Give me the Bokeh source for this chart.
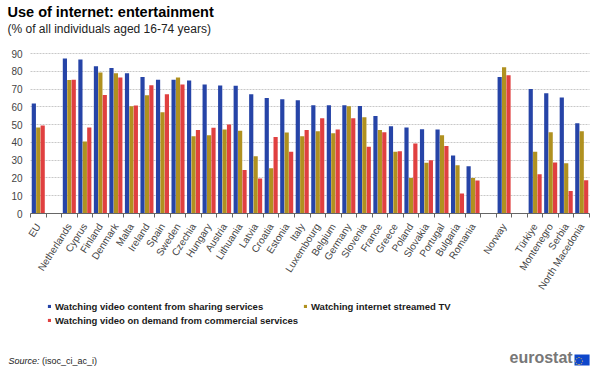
from bokeh.plotting import figure
from bokeh.models import (Range1d, FixedTicker, Label, Legend, LegendItem, ColumnDataSource)
from bokeh.embed import file_html
from bokeh.resources import INLINE

# ---- data -------------------------------------------------------------
categories = ["EU", "", "Netherlands", "Cyprus", "Finland", "Denmark", "Malta", "Ireland",
              "Spain", "Sweden", "Czechia", "Hungary", "Austria", "Lithuania", "Latvia",
              "Croatia", "Estonia", "Italy", "Luxembourg", "Belgium", "Germany", "Slovenia",
              "France", "Greece", "Poland", "Slovakia", "Portugal", "Bulgaria", "Romania",
              " ", "Norway", "  ", "Türkiye", "Montenegro", "Serbia", "North Macedonia"]

sharing = [61.9, None, 87.2, 86.6, 82.8, 81.9, 78.9, 76.8, 75.3, 75.3, 74.8, 72.5, 72.0,
           71.8, 67.1, 65.0, 64.3, 63.7, 60.9, 60.9, 60.9, 60.5, 54.9, 49.1, 48.4, 47.4,
           47.2, 32.6, 26.6, None, 76.8, None, 70.1, 67.7, 65.2, 50.8]
streamed_tv = [48.4, None, 75.1, 40.5, 79.3, 78.9, 60.3, 66.5, 57.0, 76.5, 43.5, 44.0, 47.2,
               46.5, 32.2, 25.5, 45.6, 43.5, 46.3, 45.1, 60.3, 54.2, 46.9, 34.7, 19.9, 28.5,
               44.0, 27.2, 19.9, None, 82.3, None, 34.7, 45.7, 28.3, 46.3]
on_demand = [49.5, None, 75.3, 48.4, 66.7, 76.5, 60.7, 72.2, 67.1, 72.5, 46.9, 48.2, 50.0,
             24.4, 19.7, 43.1, 34.7, 46.9, 53.6, 47.2, 53.6, 37.5, 45.7, 35.0, 39.4, 30.0,
             37.9, 11.2, 18.6, None, 77.8, None, 22.1, 28.7, 12.7, 18.7]

series_names = ["Watching video content from sharing services",
                "Watching internet streamed TV",
                "Watching video on demand from commercial services"]
series_colors = ["#2644A7", "#B09120", "#E04040"]
y_ticks = [0, 10, 20, 30, 40, 50, 60, 70, 80, 90]

# ---- layout geometry (pixels) ----------------------------------------
W, H = 600, 370
n = len(categories)
px_left, px_right = 30, 589      # where x = 0 and x = n fall
px_zero, px_top = 213, 53        # where y = 0 and y = 90 fall
xs = (px_right - px_left) / n
ys = (px_zero - px_top) / 90.0
x_range = Range1d(-px_left / xs, n + (W - px_right) / xs)
y_range = Range1d(-(H - px_zero) / ys, 90 + px_top / ys)

p = figure(width=W, height=H, x_range=x_range, y_range=y_range,
           output_backend="svg", toolbar_location=None, title=None,
           min_border_left=0, min_border_right=0, min_border_top=0, min_border_bottom=0)
p.outline_line_color = None
p.background_fill_color = "white"
p.border_fill_color = "white"

centers = [i + 0.5 for i, c in enumerate(categories) if c.strip()]
labels = [c for c in categories if c.strip()]

offsets = [-0.285, 0.0, 0.285]
renderers = []
for vals, off, col in zip([sharing, streamed_tv, on_demand], offsets, series_colors):
    xv = [i + 0.5 + off for i, v in enumerate(vals) if v is not None]
    yv = [v for v in vals if v is not None]
    src = ColumnDataSource(dict(x=xv, top=yv))
    r = p.vbar(x="x", top="top", bottom=0, width=0.27, source=src,
               fill_color=col, line_color=None)
    renderers.append(r)

# axes
xa = p.xaxis[0]
xa.fixed_location = 0
xa.bounds = (0, n)
xa.ticker = FixedTicker(ticks=centers, minor_ticks=list(range(0, n + 1)))
xa.major_label_overrides = {c: l for c, l in zip(centers, labels)}
xa.major_label_orientation = 1.0
xa.major_tick_line_color = None
xa.major_tick_out = 0
xa.major_tick_in = 0
xa.minor_tick_out = 4
xa.minor_tick_in = 0
xa.minor_tick_line_color = "#666666"
xa.axis_line_color = "#666666"
xa.major_label_text_font = "Liberation Sans"
xa.major_label_text_font_size = "10px"
xa.major_label_text_color = "#444444"
xa.major_label_standoff = 7

ya = p.yaxis[0]
ya.fixed_location = 0
ya.ticker = FixedTicker(ticks=y_ticks)
ya.axis_line_color = None
ya.major_tick_line_color = None
ya.minor_tick_line_color = None
ya.major_tick_out = 0
ya.major_label_text_font = "Liberation Sans"
ya.major_label_text_font_size = "10px"
ya.major_label_text_color = "#444444"
ya.major_label_standoff = 8

p.xgrid.visible = False
g = p.ygrid[0]
g.grid_line_color = "#c8c8c8"
g.grid_line_dash = "2 1"
g.ticker = FixedTicker(ticks=y_ticks[1:])
try:
    g.cross_bounds = (0, n)
except Exception:
    pass

# ---- texts (screen units, y measured up from the bottom) --------------
FONT = "Liberation Sans"
def sy(top_down):
    return H - top_down

p.add_layout(Label(x=7, y=sy(19), x_units="screen", y_units="screen",
                   text="Use of internet: entertainment", text_font=FONT,
                   text_font_size="14.5px", text_font_style="bold", text_color="#000000"))
p.add_layout(Label(x=7, y=sy(35), x_units="screen", y_units="screen",
                   text="(% of all individuals  aged 16-74 years)", text_font=FONT,
                   text_font_size="12px", text_color="#222222"))
p.add_layout(Label(x=8, y=sy(365), x_units="screen", y_units="screen",
                   text="Source:", text_font=FONT, text_font_size="9px",
                   text_font_style="italic", text_color="#222222"))
p.add_layout(Label(x=41.5, y=sy(365), x_units="screen", y_units="screen",
                   text="(isoc_ci_ac_i)", text_font=FONT, text_font_size="9px",
                   text_color="#222222"))
p.add_layout(Label(x=509, y=sy(365), x_units="screen", y_units="screen",
                   text="eurostat", text_font=FONT, text_font_size="16px",
                   text_font_style="bold", text_color="#777777"))
p.add_layout(Label(x=574, y=sy(359.5), x_units="screen", y_units="screen",
                   text=" \u25cc ", text_font="DejaVu Sans", text_font_size="10px",
                   text_baseline="middle",
                   text_color="#FFD617", background_fill_color="#0E47CB"))

# ---- legend (one per item for exact placement) ------------------------
legend_pos = [(47, sy(306) - 5.5), (303, sy(306) - 5.5), (47, sy(320) - 5.5)]
for r, name, pos in zip(renderers, series_names, legend_pos):
    lg = Legend(items=[LegendItem(label=name, renderers=[r])], location=pos,
                padding=0, margin=0, spacing=0, border_line_color=None,
                background_fill_alpha=0, glyph_width=4, glyph_height=4,
                label_height=10, label_width=10, label_standoff=4,
                label_text_font=FONT, label_text_font_size="9.5px",
                label_text_font_style="bold", label_text_color="#1a1a1a")
    p.add_layout(lg)

open("out.html", "w").write(file_html(p, INLINE))
